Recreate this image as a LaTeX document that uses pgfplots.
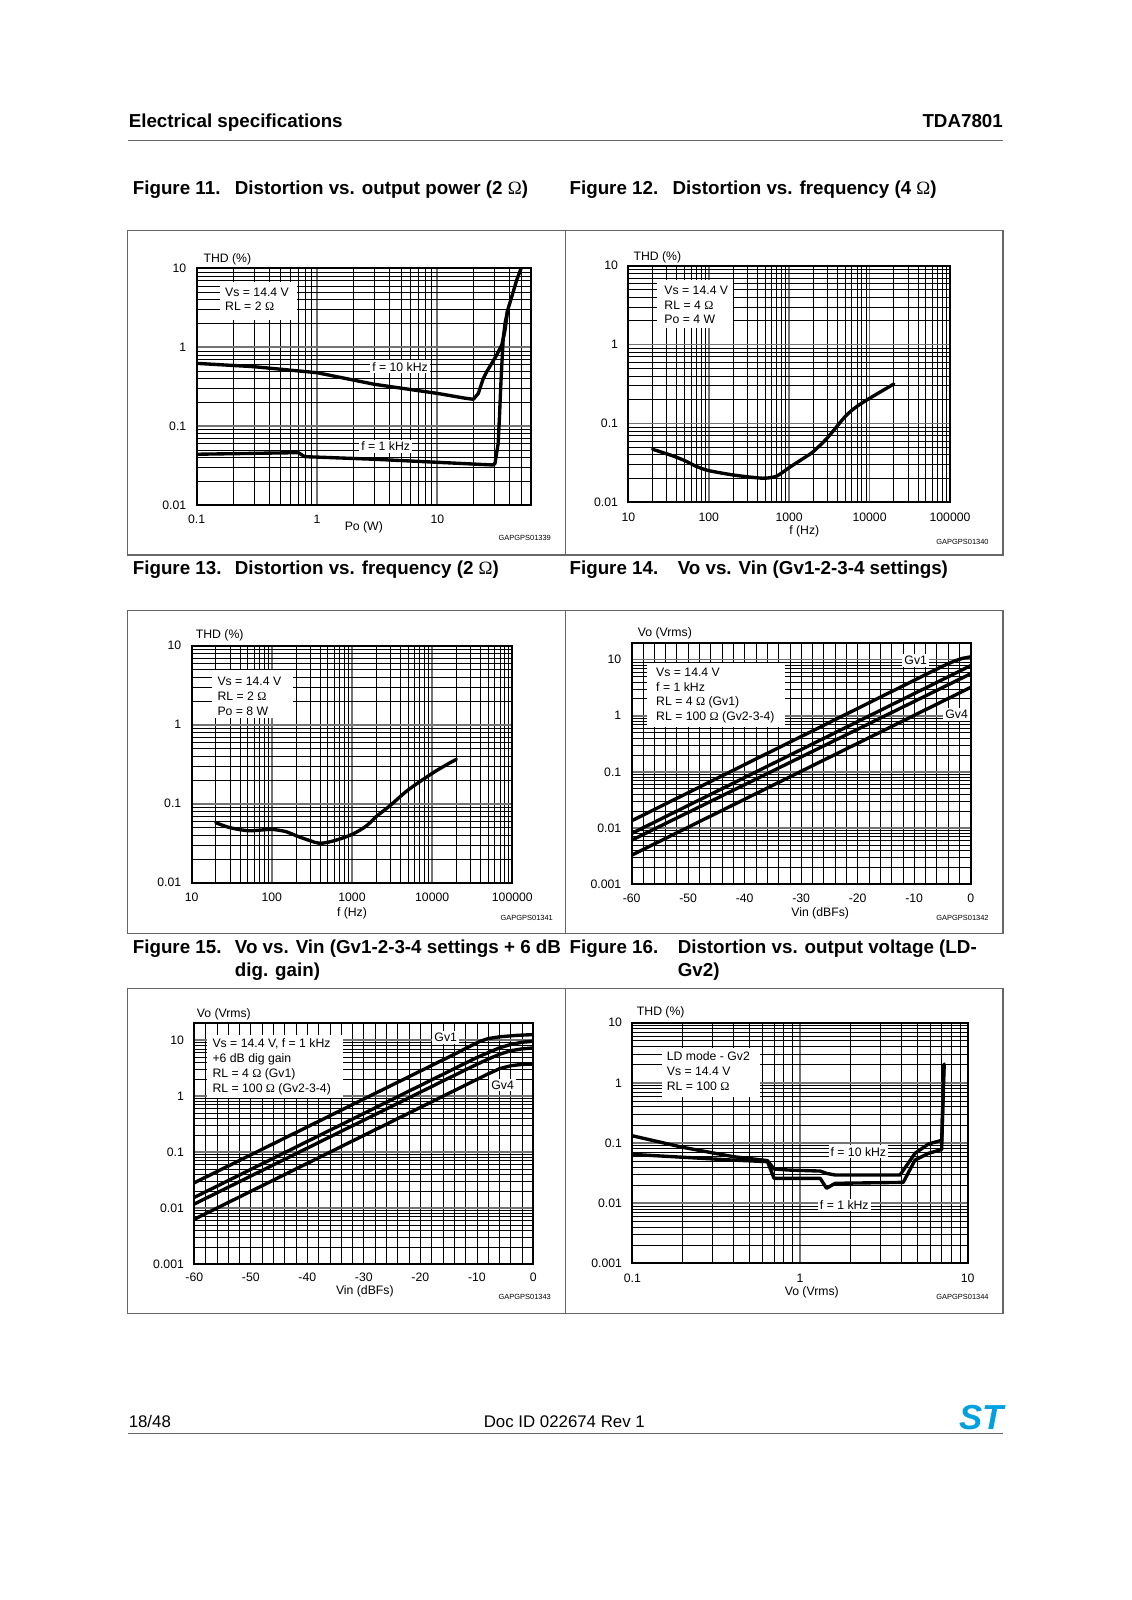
\documentclass[border=0pt]{standalone}
\usepackage{fontspec}
\setmainfont{Liberation Sans}
\newfontfamily\symfont{Liberation Serif}
\usepackage{pgfplots}
\pgfplotsset{compat=1.18}

\newcommand\fs[1]{\fontsize{#1}{#1}\selectfont}
\newcommand\ohm{{\symfont\mdseries Ω}}
\definecolor{stblue}{RGB}{0,160,225}
\definecolor{framegray}{gray}{0.4}

% common look of the datasheet grids
\pgfplotsset{
  ds/.style={
    scale only axis, anchor=north west,
    axis line style={line width=1.8pt},
    grid=both,
    minor grid style={line width=0.7pt, black},
    major grid style={line width=1.7pt, black!55},
    major tick length=0pt, minor tick length=0pt,
    tick label style={font=\fs{12}, inner sep=0pt},
    yticklabel style={anchor=east, xshift=-10pt},
    xticklabel style={anchor=center},
    every axis x label/.style={at={(axis description cs:0.5,0)}, anchor=center, inner sep=0pt, font=\fs{12}},
    every axis y label/.style={at={(axis description cs:0,1)}, anchor=west, inner sep=0pt, font=\fs{12}},
  },
  curve/.style={line width=3.3pt, black, line join=round, line cap=round},
}

\begin{document}
\begin{tikzpicture}[x=1pt, y=-1pt]
\fill[white] (0,0) rectangle (1109.3,1568);
\path[use as bounding box] (0,0) rectangle (1109.3,1568);

% page header
\node[anchor=base west, inner sep=0, font=\fs{18.4}\bfseries] at (126,124.6) {Electrical specifications};
\node[anchor=base east, inner sep=0, font=\fs{18.4}\bfseries] at (983,124.6) {TDA7801};
\draw[framegray, line width=1.1pt] (125,138) -- (983,138);

% captions
\begin{scope}[every node/.style={anchor=base west, inner sep=0, font=\fs{18.4}\bfseries}]
\node at (130,190.6) {Figure 11.};
\node at (230,190.6) {Distortion vs. output power (2 \ohm)};
\node at (558,190.6) {Figure 12.};
\node at (659,190.6) {Distortion vs. frequency (4 \ohm)};
\node at (130,562.6) {Figure 13.};
\node at (230,562.6) {Distortion vs. frequency (2 \ohm)};
\node at (558,562.6) {Figure 14.};
\node at (664,562.6) {Vo vs. Vin (Gv1-2-3-4 settings)};
\node at (130,934.6) {Figure 15.};
\node at (230,934.6) {Vo vs. Vin (Gv1-2-3-4 settings + 6 dB};
\node at (230,956.6) {dig. gain)};
\node at (558,934.6) {Figure 16.};
\node at (664,934.6) {Distortion vs. output voltage (LD-};
\node at (664,956.6) {Gv2)};
\end{scope}

% panel frames
\begin{scope}[framegray, line width=1.3pt]
\draw (125,226) rectangle (983,544) (554,226) -- (554,544);
\draw (125,598) rectangle (983,915) (554,598) -- (554,915);
\draw (125,969) rectangle (983,1287) (554,969) -- (554,1287);
\end{scope}

% Figure 11
\begin{axis}[ds, xmode=log, ymode=log, at={(192.7pt,-263pt)}, width=327.7pt, height=231.9pt,
  xmin=0.1, xmax=60, ymin=0.01, ymax=10,
  xtick={0.1,1,10}, xticklabels={0.1,1,10},
  minor xtick={0.2,0.3,0.4,0.5,0.6,0.7,0.8,0.9,2,3,4,5,6,7,8,9,20,30,40,50},
  ytick={0.01,0.1,1,10}, yticklabels={0.01,0.1,1,10},
  minor ytick={0.02,0.03,0.04,0.05,0.06,0.07,0.08,0.09,0.2,0.3,0.4,0.5,0.6,0.7,0.8,0.9,2,3,4,5,6,7,8,9},
  xticklabel style={yshift=-14pt},
  xlabel={Po (W)}, ylabel={THD (\%)},
  xlabel style={yshift=-22pt}, ylabel style={xshift=6.6pt, yshift=8.9pt}]
\addplot[curve] table {
0.1 0.625
0.3 0.567
1 0.476
3 0.339
10 0.26
17 0.226
19.9 0.219
21.9 0.26
24.1 0.403
25.7 0.49
28.3 0.625
31.1 0.797
34.3 1.07
36.5 1.65
38.4 2.96
41.5 4.37
45.6 7.1
49.6 10
};
\addplot[curve] table {
0.1 0.044
0.4 0.0455
0.7 0.0461
0.79 0.041
1 0.0405
3 0.038
10 0.0348
25 0.0325
29 0.0322
30.1 0.0335
32 0.06
32.8 0.13
33.8 0.38
35.2 1.25
36.5 2.0
38.4 2.96
};
\end{axis}
\fill[white] (215.6,276) rectangle (291,313.6);
\node[anchor=base west, inner sep=0, font=\fs{12}] at (220.5,290.1) {Vs = 14.4 V};
\node[anchor=base west, inner sep=0, font=\fs{12}] at (220.5,304.2) {RL = 2 \ohm};
\node[fill=white, inner sep=2pt, font=\fs{12}] at (392,359.3) {f = 10 kHz};
\node[fill=white, inner sep=2pt, font=\fs{12}] at (378,437.1) {f = 1 kHz};
\node[anchor=east, inner sep=0, font=\fs{7.3}] at (540,527.6) {GAPGPS01339};

% Figure 12 (frequency kept in kHz, labels in Hz)
\begin{axis}[ds, xmode=log, ymode=log, at={(615.8pt,-260.4pt)}, width=315.2pt, height=231.8pt,
  xmin=0.01, xmax=100, ymin=0.01, ymax=10,
  xtick={0.01,0.1,1,10,100}, xticklabels={10,100,1000,10000,100000},
  minor xtick={0.02,0.03,0.04,0.05,0.06,0.07,0.08,0.09,0.2,0.3,0.4,0.5,0.6,0.7,0.8,0.9,2,3,4,5,6,7,8,9,20,30,40,50,60,70,80,90},
  ytick={0.01,0.1,1,10}, yticklabels={0.01,0.1,1,10},
  minor ytick={0.02,0.03,0.04,0.05,0.06,0.07,0.08,0.09,0.2,0.3,0.4,0.5,0.6,0.7,0.8,0.9,2,3,4,5,6,7,8,9},
  xticklabel style={yshift=-14.8pt},
  xlabel={f (Hz)}, ylabel={THD (\%)},
  xlabel style={at={(axis description cs:0.547,0)}, yshift=-28.8pt},
  ylabel style={xshift=4.9pt, yshift=8.2pt}]
\addplot[curve, smooth] table {
0.02 0.047
0.035 0.039
0.05 0.0338
0.07 0.0285
0.1 0.0252
0.2 0.0222
0.35 0.0207
0.5 0.0202
0.7 0.0215
1 0.0275
1.5 0.036
2 0.044
3 0.066
5 0.123
7 0.165
10 0.208
14 0.255
20 0.316
};
\end{axis}
\fill[white] (643.5,274.4) rectangle (718.6,321.8);
\node[anchor=base west, inner sep=0, font=\fs{12}] at (651,288.5) {Vs = 14.4 V};
\node[anchor=base west, inner sep=0, font=\fs{12}] at (651,303.2) {RL = 4 \ohm};
\node[anchor=base west, inner sep=0, font=\fs{12}] at (651,317.3) {Po = 4 W};
\node[anchor=east, inner sep=0, font=\fs{7.3}] at (969,531) {GAPGPS01340};

% Figure 13 (frequency kept in kHz, labels in Hz)
\begin{axis}[ds, xmode=log, ymode=log, at={(187.8pt,-632.8pt)}, width=314.3pt, height=232.2pt,
  xmin=0.01, xmax=100, ymin=0.01, ymax=10,
  xtick={0.01,0.1,1,10,100}, xticklabels={10,100,1000,10000,100000},
  minor xtick={0.02,0.03,0.04,0.05,0.06,0.07,0.08,0.09,0.2,0.3,0.4,0.5,0.6,0.7,0.8,0.9,2,3,4,5,6,7,8,9,20,30,40,50,60,70,80,90},
  ytick={0.01,0.1,1,10}, yticklabels={0.01,0.1,1,10},
  minor ytick={0.02,0.03,0.04,0.05,0.06,0.07,0.08,0.09,0.2,0.3,0.4,0.5,0.6,0.7,0.8,0.9,2,3,4,5,6,7,8,9},
  xticklabel style={yshift=-14.7pt},
  xlabel={f (Hz)}, ylabel={THD (\%)},
  xlabel style={yshift=-30pt}, ylabel style={xshift=4pt, yshift=10.5pt}]
\addplot[curve, smooth] table {
0.02 0.0575
0.03 0.0497
0.05 0.0455
0.07 0.0462
0.1 0.0473
0.15 0.0443
0.2 0.0394
0.3 0.034
0.4 0.0315
0.6 0.034
1 0.0408
1.5 0.052
2 0.0685
3 0.095
5 0.149
10 0.242
15 0.31
20 0.364
};
\end{axis}
\fill[white] (207.4,656.6) rectangle (287.5,704);
\node[anchor=base west, inner sep=0, font=\fs{12}] at (213,671.7) {Vs = 14.4 V};
\node[anchor=base west, inner sep=0, font=\fs{12}] at (213,686.4) {RL = 2 \ohm};
\node[anchor=base west, inner sep=0, font=\fs{12}] at (213,700.8) {Po = 8 W};
\node[anchor=east, inner sep=0, font=\fs{7.3}] at (542,900) {GAPGPS01341};

% Figure 14
\begin{axis}[ds, ymode=log, at={(619pt,-629.8pt)}, width=332.3pt, height=236.8pt,
  xmin=-60, xmax=0, ymin=0.001, ymax=20,
  xtick={-60,-50,-40,-30,-20,-10,0}, xticklabels={-60,-50,-40,-30,-20,-10,0},
  minor x tick num=4, major x grid style={line width=0.7pt, black},
  ytick={0.001,0.01,0.1,1,10}, yticklabels={0.001,0.01,0.1,1,10},
  minor ytick={0.002,0.003,0.004,0.005,0.006,0.007,0.008,0.009,0.02,0.03,0.04,0.05,0.06,0.07,0.08,0.09,0.2,0.3,0.4,0.5,0.6,0.7,0.8,0.9,2,3,4,5,6,7,8,9},
  xticklabel style={yshift=-13.8pt},
  xlabel={Vin (dBFs)}, ylabel={Vo (Vrms)},
  xlabel style={at={(axis description cs:0.556,0)}, yshift=-28.4pt},
  ylabel style={xshift=5.9pt, yshift=9.1pt}]
\addplot[curve] table {
-60 0.0135
-10 4.27
-5 7.6
-3 9.3
-1.5 10.5
0 11.2
};
\addplot[curve] table {
-60 0.00803
0 7.8
};
\addplot[curve] table {
-60 0.0061
0 5.6
};
\addplot[curve] table {
-60 0.0033
0 3.2
};
\end{axis}
\fill[white] (633.7,650) rectangle (769.3,712.2);
\node[anchor=base west, inner sep=0, font=\fs{12}] at (642.9,662.5) {Vs = 14.4 V};
\node[anchor=base west, inner sep=0, font=\fs{12}] at (642.9,677.3) {f = 1 kHz};
\node[anchor=base west, inner sep=0, font=\fs{12}] at (642.9,691.3) {RL = 4 \ohm{} (Gv1)};
\node[anchor=base west, inner sep=0, font=\fs{12}] at (642.9,706) {RL = 100 \ohm{} (Gv2-3-4)};
\node[fill=white, inner sep=2pt, font=\fs{12}] at (897.4,647.4) {Gv1};
\node[fill=white, inner sep=2pt, font=\fs{12}] at (937.5,700) {Gv4};
\node[anchor=east, inner sep=0, font=\fs{7.3}] at (969,900) {GAPGPS01342};

% Figure 15
\begin{axis}[ds, ymode=log, at={(190.4pt,-1002.9pt)}, width=332.3pt, height=235.8pt,
  xmin=-60, xmax=0, ymin=0.001, ymax=20,
  xtick={-60,-50,-40,-30,-20,-10,0}, xticklabels={-60,-50,-40,-30,-20,-10,0},
  minor x tick num=4, major x grid style={line width=0.7pt, black},
  ytick={0.001,0.01,0.1,1,10}, yticklabels={0.001,0.01,0.1,1,10},
  minor ytick={0.002,0.003,0.004,0.005,0.006,0.007,0.008,0.009,0.02,0.03,0.04,0.05,0.06,0.07,0.08,0.09,0.2,0.3,0.4,0.5,0.6,0.7,0.8,0.9,2,3,4,5,6,7,8,9},
  xticklabel style={yshift=-13.1pt},
  xlabel={Vin (dBFs)}, ylabel={Vo (Vrms)},
  xlabel style={at={(axis description cs:0.503,0)}, yshift=-27.1pt},
  ylabel style={xshift=2.3pt, yshift=8.9pt}]
\addplot[curve] table {
-60 0.0283
-14 5.6
-11 8.0
-9.5 9.5
-8 10.7
-6 11.5
-3 12.2
0 12.6
};
\addplot[curve] table {
-60 0.0155
-12 3.9
-10 4.9
-8 6.0
-6 7.3
-4 8.4
-2 9.2
0 9.6
};
\addplot[curve] table {
-60 0.0118
-12 2.96
-10 3.7
-8 4.6
-6 5.6
-4 6.5
-2 7.0
0 7.3
};
\addplot[curve] table {
-60 0.0063
-10 1.99
-8 2.5
-6 3.1
-4 3.5
-2 3.7
0 3.75
};
\end{axis}
\fill[white] (202.5,1014.3) rectangle (336.5,1076.4);
\node[anchor=base west, inner sep=0, font=\fs{12}] at (208.1,1026.1) {Vs = 14.4 V, f = 1 kHz};
\node[anchor=base west, inner sep=0, font=\fs{12}] at (208.1,1040.8) {+6 dB dig gain};
\node[anchor=base west, inner sep=0, font=\fs{12}] at (208.1,1055.5) {RL = 4 \ohm{} (Gv1)};
\node[anchor=base west, inner sep=0, font=\fs{12}] at (208.1,1070.9) {RL = 100 \ohm{} (Gv2-3-4)};
\node[fill=white, inner sep=2pt, font=\fs{12}] at (436.8,1017) {Gv1};
\node[fill=white, inner sep=2pt, font=\fs{12}] at (492.6,1063.3) {Gv4};
\node[anchor=east, inner sep=0, font=\fs{7.3}] at (540,1271.4) {GAPGPS01343};

% Figure 16
\begin{axis}[ds, xmode=log, ymode=log, at={(619.7pt,-1002.2pt)}, width=328.6pt, height=235.9pt,
  xmin=0.1, xmax=10, ymin=0.001, ymax=10,
  xtick={0.1,1,10}, xticklabels={0.1,1,10},
  minor xtick={0.2,0.3,0.4,0.5,0.6,0.7,0.8,0.9,2,3,4,5,6,7,8,9},
  ytick={0.001,0.01,0.1,1,10}, yticklabels={0.001,0.01,0.1,1,10},
  minor ytick={0.002,0.003,0.004,0.005,0.006,0.007,0.008,0.009,0.02,0.03,0.04,0.05,0.06,0.07,0.08,0.09,0.2,0.3,0.4,0.5,0.6,0.7,0.8,0.9,2,3,4,5,6,7,8,9},
  xticklabel style={yshift=-14.6pt},
  xlabel={Vo (Vrms)}, ylabel={THD (\%)},
  xlabel style={at={(axis description cs:0.535,0)}, yshift=-28.7pt},
  ylabel style={xshift=4.3pt, yshift=9.8pt}]
\addplot[curve] table {
0.1 0.132
0.2 0.0848
0.4 0.0593
0.64 0.051
0.7 0.037
0.85 0.0356
1.32 0.0342
1.44 0.0313
1.62 0.0294
3.95 0.0294
4.85 0.0673
5.83 0.0962
6.84 0.109
7.0 0.11
7.25 2.06
};
\addplot[curve] table {
0.1 0.0648
0.2 0.058
0.4 0.052
0.64 0.049
0.7 0.0259
1.32 0.0259
1.44 0.0177
1.62 0.0214
4.13 0.0222
4.85 0.052
5.83 0.0673
6.84 0.0766
7.0 0.078
7.2 2.0
};
\end{axis}
\fill[white] (648.4,1027.4) rectangle (744.8,1074.8);
\node[anchor=base west, inner sep=0, font=\fs{12}] at (653.3,1039.2) {LD mode - Gv2};
\node[anchor=base west, inner sep=0, font=\fs{12}] at (653.3,1053.9) {Vs = 14.4 V};
\node[anchor=base west, inner sep=0, font=\fs{12}] at (653.3,1068.6) {RL = 100 \ohm};
\node[fill=white, inner sep=2pt, font=\fs{12}] at (841.2,1128.7) {f = 10 kHz};
\node[fill=white, inner sep=2pt, font=\fs{12}] at (827.4,1180.9) {f = 1 kHz};
\node[anchor=east, inner sep=0, font=\fs{7.3}] at (969,1271.4) {GAPGPS01344};

% page footer
\node[anchor=base west, inner sep=0, font=\fs{16.5}] at (126,1398.9) {18/48};
\node[anchor=base, inner sep=0, font=\fs{16.5}] at (553,1398.9) {Doc ID 022674 Rev 1};
\node[anchor=base east, inner sep=0, text=stblue, font=\fs{34}\bfseries\itshape] at (984,1400.5) {ST};
\draw[framegray, line width=1.1pt] (125,1405) -- (983,1405);
\end{tikzpicture}
\end{document}
